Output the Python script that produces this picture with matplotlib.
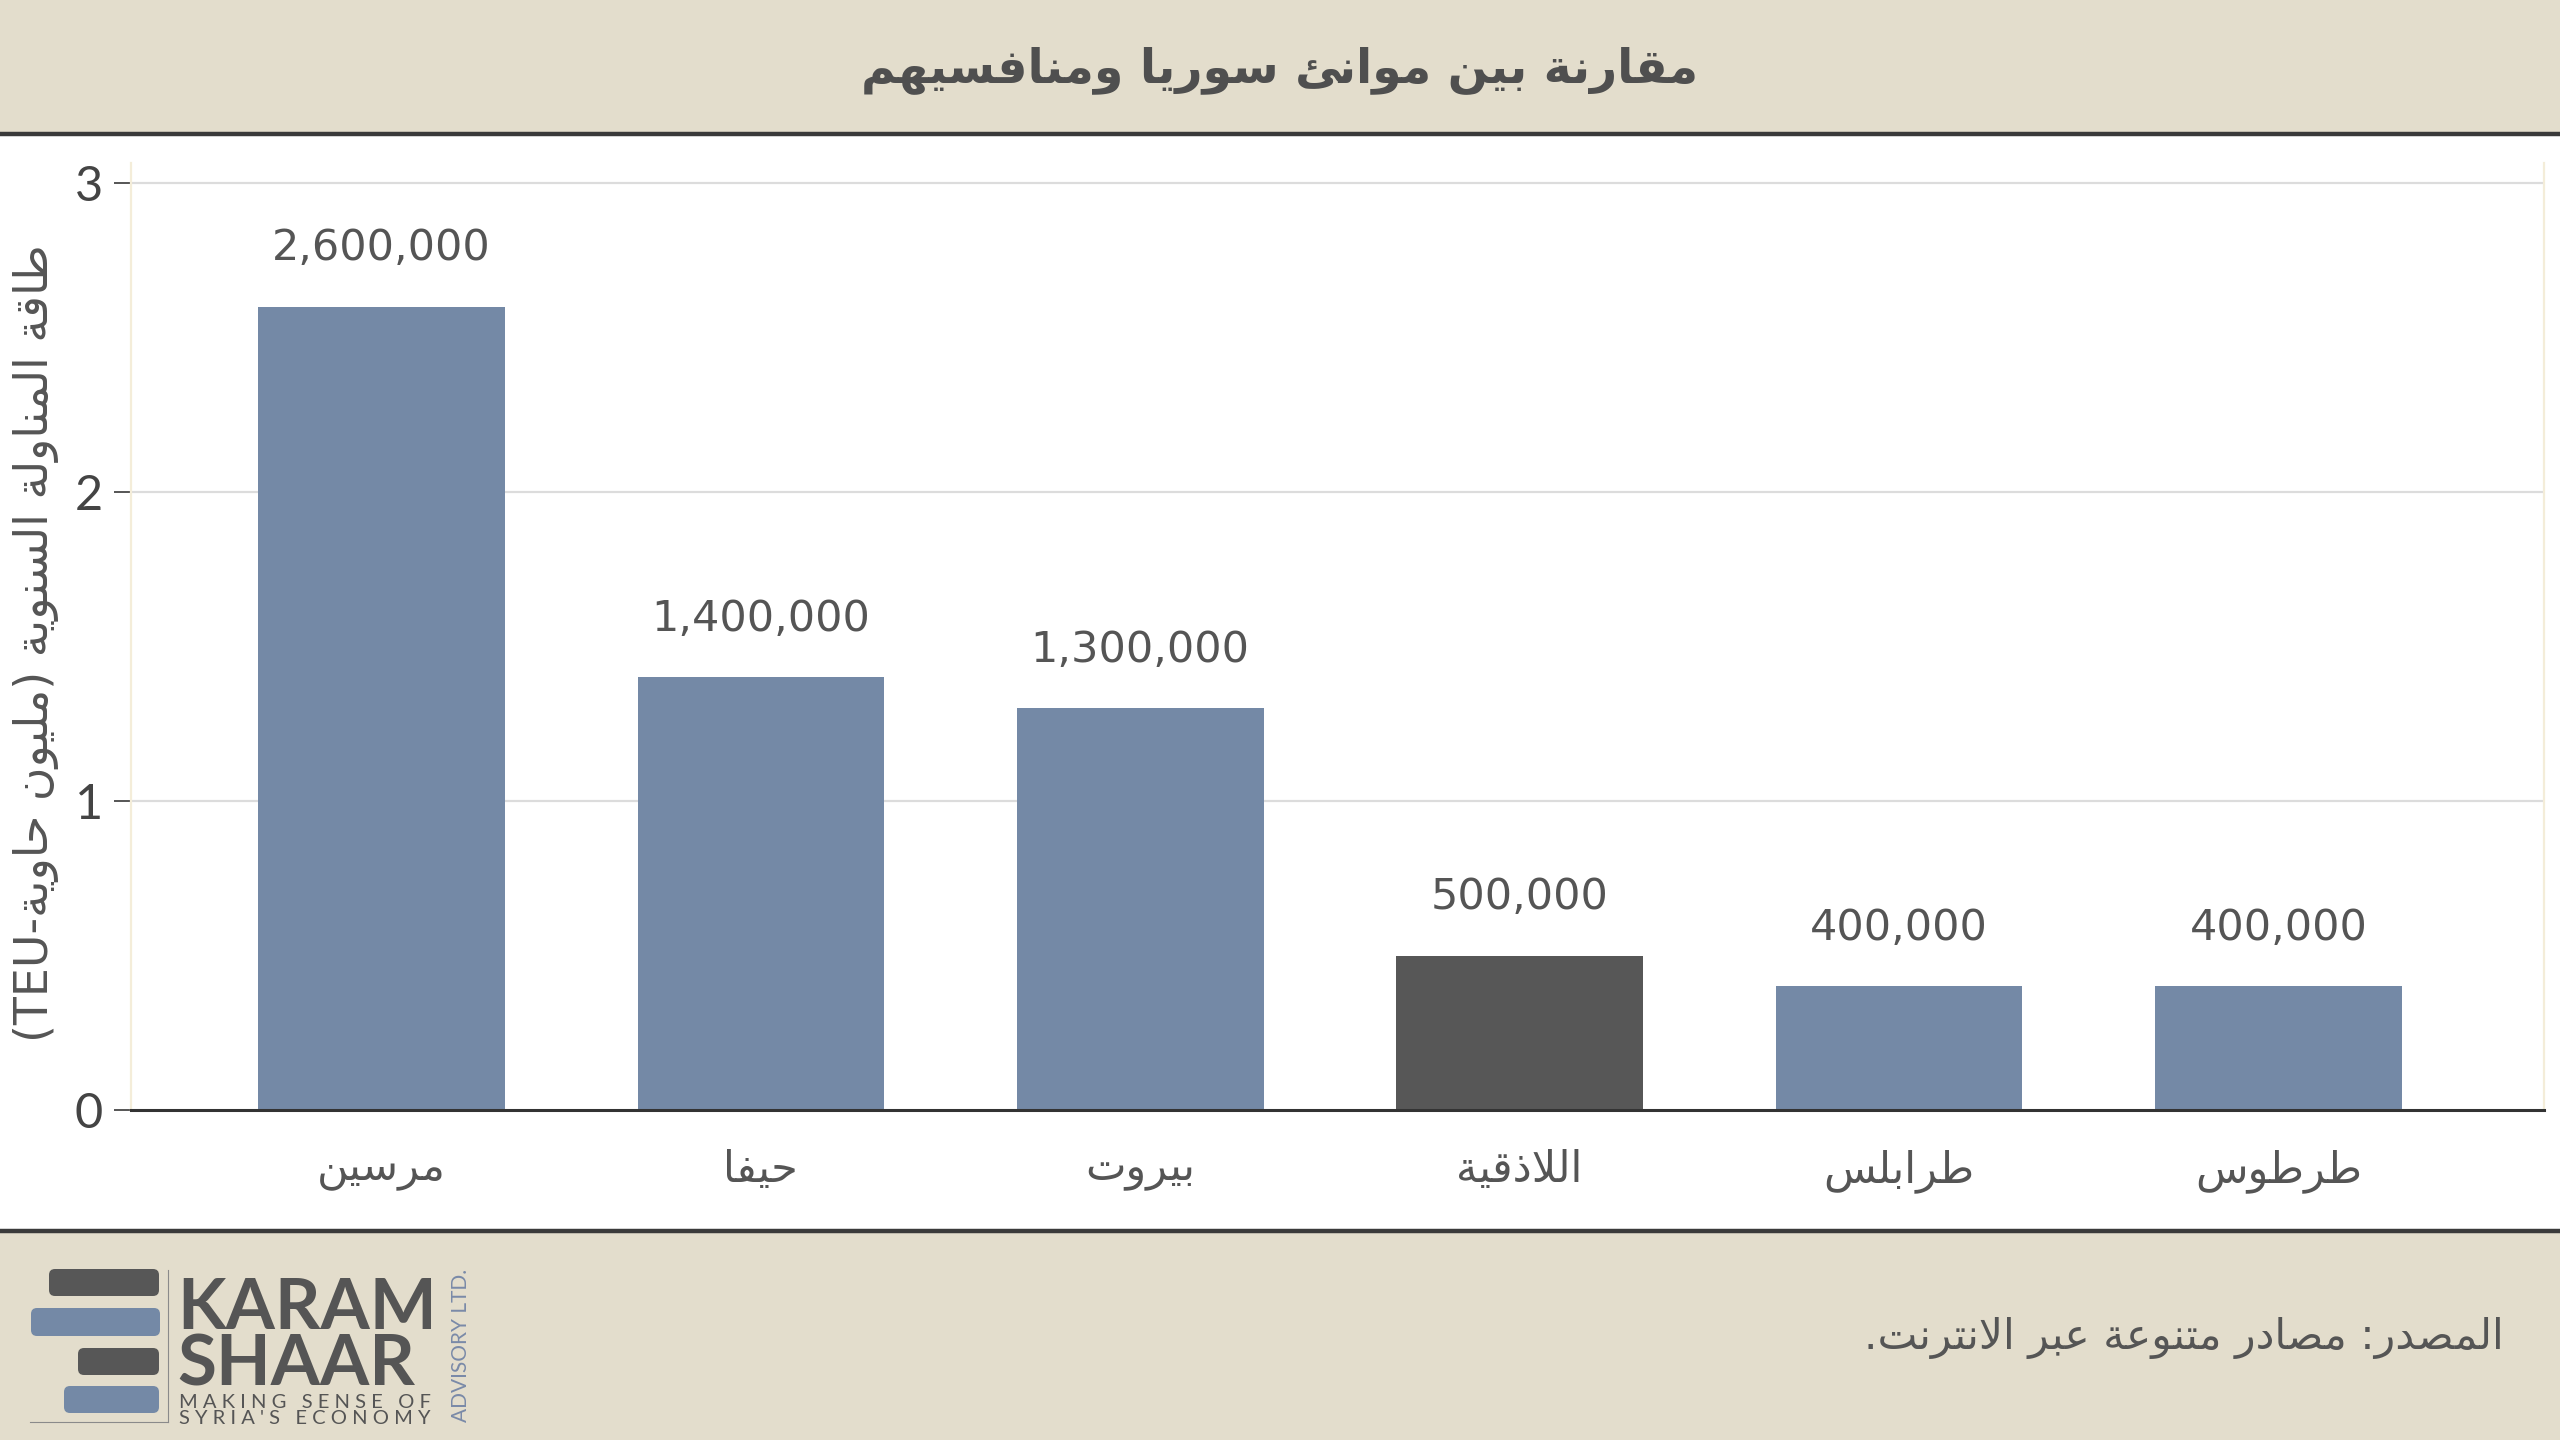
import re
import matplotlib
matplotlib.use('Agg')
import matplotlib.pyplot as plt
from matplotlib.patches import Rectangle, FancyBboxPatch

# --- data ---
ports = ['مرسين', 'حيفا', 'بيروت', 'اللاذقية', 'طرابلس', 'طرطوس']
capacity = [2.6, 1.4, 1.3, 0.5, 0.4, 0.4]   # million TEU per year
highlight = 'اللاذقية'
yticks = [0, 1, 2, 3]

title = 'مقارنة بين موانئ سوريا ومنافسيهم'
ylabel = 'طاقة المناولة السنوية (مليون حاوية-TEU)'
source = 'المصدر: مصادر متنوعة عبر الانترنت.'

# --- minimal arabic shaping (no reshaper lib available) ---
letters = 'ءآأؤإئابةتثجحخدذرزسشصضطظعغفقكلمنهوىي'
counts = [1, 2, 2, 2, 2, 4, 2, 4, 2, 4, 4, 4, 4, 4, 2, 2, 2, 2, 4, 4,
          4, 4, 4, 4, 4, 4, 4, 4, 4, 4, 4, 4, 4, 2, 2, 4]
FORMS = {}
code = 0xFE80
for ch, n in zip(letters, counts):
    FORMS[ch] = [chr(code + k) for k in range(n)]
    code += n
LAMALEF = {'آ': 0xFEF5, 'أ': 0xFEF7, 'إ': 0xFEF9, 'ا': 0xFEFB}


def joins_fwd(c):
    return c in FORMS and len(FORMS[c]) == 4


def joinable(c):
    return c in FORMS and len(FORMS[c]) > 1


def shape(text):
    out = []
    i = 0
    n = len(text)
    while i < n:
        c = text[i]
        if c not in FORMS:
            out.append(c)
            i += 1
            continue
        prev = text[i - 1] if i > 0 else ''
        jp = joins_fwd(prev) and joinable(c)
        if c == 'ل' and i + 1 < n and text[i + 1] in LAMALEF:
            out.append(chr(LAMALEF[text[i + 1]] + (1 if jp else 0)))
            i += 2
            continue
        nxt = text[i + 1] if i + 1 < n else ''
        jn = joins_fwd(c) and joinable(nxt)
        form = 3 if (jp and jn) else 1 if jp else 2 if jn else 0
        out.append(FORMS[c][form])
        i += 1
    return ''.join(out)


def ar(text):
    runs = re.findall(r'[A-Za-z0-9]+|[^A-Za-z0-9]', shape(text))
    runs.reverse()
    mirror = {'(': ')', ')': '('}
    return ''.join(mirror.get(r, r) for r in runs)


W, H = 2560, 1440
BG = '#e3ddcc'
DARK = '#3a3a3a'
TXT = '#555555'
AR_FONT = ['DejaVu Sans']
NUM_FONT = ['DejaVu Sans']
LOGO_FONT = ['Lato', 'DejaVu Sans']

fig = plt.figure(figsize=(25.6, 14.4), dpi=100)
fig.patch.set_facecolor('white')

# overlay in pixel coords for the header / footer / logo
deco = fig.add_axes([0, 0, 1, 1], zorder=0)
deco.set_xlim(0, W)
deco.set_ylim(H, 0)
deco.axis('off')

deco.add_patch(Rectangle((0, 0), W, 133, color=BG, lw=0))
deco.plot([0, W], [134, 134], color=DARK, lw=3.2, solid_capstyle='butt')
deco.add_patch(Rectangle((0, 1231), W, H - 1231, color=BG, lw=0))
deco.plot([0, W], [1231, 1231], color=DARK, lw=3.2, solid_capstyle='butt')

deco.text(W / 2, 70, ar(title), ha='center', va='center', fontsize=34,
          weight='bold', color='#4f4f4f', family=AR_FONT)
deco.text(2504, 1338, ar(source), ha='right', va='center', fontsize=30.5,
          color=TXT, family=AR_FONT)
deco.text(36, 643, ar(ylabel), ha='center', va='center', rotation=90,
          fontsize=33, color=TXT, family=AR_FONT)

# logo
for x0, y0, x1, y1, col in [(49, 1269, 159, 1296, '#575757'),
                             (31, 1308, 160, 1336, '#7489a6'),
                             (78, 1348, 159, 1375, '#575757'),
                             (64, 1386, 159, 1413, '#7489a6')]:
    deco.add_patch(FancyBboxPatch((x0, y0), x1 - x0, y1 - y0,
                                  boxstyle='round,pad=0,rounding_size=6',
                                  color=col, lw=0))
deco.plot([168, 168], [1270, 1422], color='#8a8a8a', lw=0.8)
deco.plot([30, 168], [1422, 1422], color='#8a8a8a', lw=0.8)
deco.text(177, 1386, 'KARAM\nSHAAR', fontsize=51, weight='bold',
          color='#555555', family=LOGO_FONT, va='baseline',
          linespacing=0.84)
deco.text(179, 1424, "M A K I N G   S E N S E   O F\nS Y R I A ' S   E C O N O M Y",
          fontsize=14.5, color='#555555', family=LOGO_FONT, ha='left',
          va='baseline', linespacing=0.9)
deco.text(461, 1345, 'ADVISORY LTD.', rotation=90, fontsize=15,
          color='#7a8aa8', family=LOGO_FONT, ha='center', va='center')

# --- chart ---
ax = fig.add_axes([131 / W, 1 - 1110 / H, (2544 - 131) / W, (1110 - 163) / H],
                  zorder=1)
ax.patch.set_alpha(0)
x = list(range(len(ports)))
colors = ['#575757' if p == highlight else '#7489a6' for p in ports]
bars = ax.bar(x, capacity, width=0.65, color=colors, zorder=3)

for xi, v in zip(x, capacity):
    ax.annotate(f'{int(round(v * 1e6)):,}', (xi, v), xytext=(0, 27),
                textcoords='offset points', ha='center', va='bottom',
                fontsize=31, color=TXT, family=NUM_FONT)

ax.set_xlim(-0.66, 5.70)
ax.set_ylim(0, 3.065)
ax.set_yticks(yticks)
ax.set_yticklabels([str(t) for t in yticks], fontsize=35, color='#444444',
                   family=LOGO_FONT)
ax.set_xticks(x)
ax.set_xticklabels([ar(p) for p in ports], fontsize=31, color=TXT,
                   family=AR_FONT)
ax.tick_params(axis='x', length=0, pad=28)
ax.tick_params(axis='y', length=12, width=1.4, color='#555555', pad=8)

for t in yticks[1:]:
    ax.axhline(t, color='#dcdcdc', lw=1.6, zorder=1)

for side in ['left', 'right']:
    ax.spines[side].set_color('#f4edd9')
    ax.spines[side].set_linewidth(1.6)
ax.spines['top'].set_visible(False)
ax.spines['bottom'].set_color('#333333')
ax.spines['bottom'].set_linewidth(2.2)
ax.spines['bottom'].set_zorder(4)

fig.savefig('out.png', dpi=100)
